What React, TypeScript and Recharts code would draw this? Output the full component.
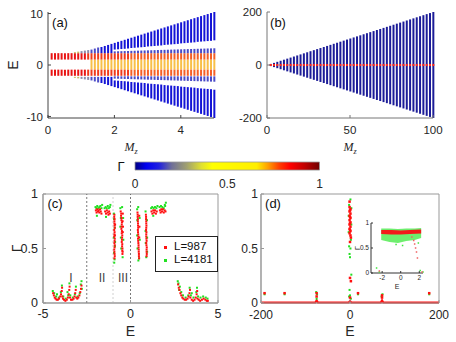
import React from 'react';
import {
  ComposedChart,
  BarChart,
  Bar,
  Cell,
  XAxis,
  YAxis,
  Scatter,
  Line,
  Area,
  ReferenceLine,
  ReferenceArea,
} from 'recharts';

const FONT = '"Liberation Sans", Arial, Helvetica, sans-serif';
const SERIF = '"Liberation Serif", "DejaVu Serif", serif';
const TICK = '#262626';

// ---------------- panel (a): spectrum vs M_z (0..5) ----------------
const mzA = [
  0.1, 0.2, 0.3, 0.4, 0.5, 0.6, 0.7, 0.8, 0.9, 1.0, 1.1, 1.2, 1.3, 1.4, 1.5, 1.6, 1.7,
  1.8, 1.9, 2.0, 2.1, 2.2, 2.3, 2.4, 2.5, 2.6, 2.7, 2.8, 2.9, 3.0, 3.1, 3.2, 3.3, 3.4,
  3.5, 3.6, 3.7, 3.8, 3.9, 4.0, 4.1, 4.2, 4.3, 4.4, 4.5, 4.6, 4.7, 4.8, 4.9, 5.0,
];
const outerHiA = [
  null, null, null, null, null, null, null,
  2.5, 2.6, 2.7, 2.8, 2.9, 3.0, 3.2, 3.4, 3.5, 3.7, 3.9, 4.1,
  4.3, 4.5, 4.7, 4.9, 5.1, 5.3, 5.5, 5.7, 5.9, 6.1,
  6.3, 6.5, 6.7, 6.9, 7.1, 7.3, 7.5, 7.7, 7.9, 8.1,
  8.3, 8.5, 8.7, 8.9, 9.1, 9.3, 9.5, 9.7, 9.9, 10.1,
  10.3,
];
const outerLoA = [
  null, null, null, null, null, null, null,
  2.3, 2.3, 2.3, 2.3, 2.3, 2.3, 2.3, 2.3, 2.3, 2.3, 2.3, 2.3,
  3.0, 3.05, 3.1, 3.15, 3.2, 3.3, 3.35, 3.4, 3.45, 3.5,
  3.6, 3.65, 3.7, 3.75, 3.8, 3.9, 3.95, 4.0, 4.05, 4.1,
  4.2, 4.25, 4.3, 4.35, 4.4, 4.5, 4.55, 4.6, 4.65, 4.7,
  4.8,
];
const innerHiA = [
  null, null, null, null, null, null, null, null, null, null,
  null, null, null, null, null, null, null, null, null,
  2.65, 2.67, 2.69, 2.71, 2.73, 2.75, 2.77, 2.79, 2.81, 2.83,
  2.85, 2.87, 2.89, 2.91, 2.93, 2.95, 2.97, 2.99, 3.01, 3.03,
  3.05, 3.07, 3.09, 3.11, 3.13, 3.15, 3.17, 3.19, 3.21, 3.23,
  3.25,
];
const redBandUpperA = [1.05, 2.3];
const redBandLowerA = [-2.1, -0.9];
const coreBandA = [-0.9, 1.05];
const coreOnsetA = 1.3;

// ---------------- panel (b): spectrum vs M_z (0..100) ----------------
const mzB = [
  2, 4, 6, 8, 10, 12, 14, 16, 18, 20, 22, 24, 26, 28, 30, 32, 34, 36, 38, 40, 42, 44, 46,
  48, 50, 52, 54, 56, 58, 60, 62, 64, 66, 68, 70, 72, 74, 76, 78, 80, 82, 84, 86, 88, 90,
  92, 94, 96, 98, 100,
];
const hiB = [
  4, 8, 12, 16, 20, 24, 28, 32, 36, 40, 44, 48, 52, 56, 60, 64, 68, 72, 76, 80, 84, 88, 92,
  96, 100, 104, 108, 112, 116, 120, 124, 128, 132, 136, 140, 144, 148, 152, 156, 160, 164,
  168, 172, 176, 180, 184, 188, 192, 196, 200,
];
const redBandB = [-4, 4];

// ---------------- colour bar ----------------
const gammaTicks = [0, 0.5, 1];

// ---------------- panel (c): Gamma vs E ----------------
const redC = [
  [-4.42, 0.09], [-4.38, 0.07], [-4.33, 0.05], [-4.28, 0.04], [-4.22, 0.03], [-4.15, 0.03],
  [-4.08, 0.04], [-4.02, 0.06], [-3.97, 0.08], [-3.93, 0.11], [-3.91, 0.14], [-3.9, 0.06],
  [-3.86, 0.04], [-3.8, 0.03], [-3.72, 0.02], [-3.64, 0.03], [-3.58, 0.05], [-3.53, 0.08],
  [-3.5, 0.12], [-3.48, 0.15], [-3.46, 0.05], [-3.4, 0.03], [-3.32, 0.03], [-3.25, 0.04],
  [-3.2, 0.06], [-3.16, 0.09], [-3.13, 0.12], [-3.1, 0.05], [-3.04, 0.04], [-2.98, 0.05],
  [-2.92, 0.07], [-2.87, 0.1], [-2.83, 0.13], [-2.8, 0.16],
  [-1.98, 0.85], [-1.94, 0.83], [-1.9, 0.86], [-1.86, 0.84], [-1.82, 0.85], [-1.78, 0.83],
  [-1.74, 0.86], [-1.7, 0.84], [-1.66, 0.82], [-1.45, 0.84], [-1.4, 0.82], [-1.35, 0.85],
  [-1.3, 0.83], [-1.26, 0.81], [-1.22, 0.84], [-1.18, 0.82],
  [-0.93, 0.79], [-0.92, 0.75], [-0.91, 0.71], [-0.93, 0.67], [-0.92, 0.63], [-0.9, 0.59],
  [-0.92, 0.55], [-0.91, 0.51], [-0.92, 0.47], [-0.9, 0.43], [-0.88, 0.72], [-0.89, 0.62],
  [-0.92, 0.81], [-0.91, 0.77], [-0.92, 0.73], [-0.9, 0.69], [-0.91, 0.65], [-0.93, 0.61],
  [-0.91, 0.57], [-0.9, 0.53], [-0.93, 0.49], [-0.91, 0.45], [-0.92, 0.41],
  [-0.56, 0.84], [-0.54, 0.8], [-0.52, 0.76], [-0.5, 0.72], [-0.52, 0.68], [-0.5, 0.64],
  [-0.48, 0.6], [-0.5, 0.56], [-0.48, 0.52], [-0.47, 0.48], [-0.46, 0.45], [-0.44, 0.82],
  [-0.45, 0.75], [-0.43, 0.7], [-0.44, 0.65],
  [-0.53, 0.82], [-0.51, 0.78], [-0.49, 0.74], [-0.51, 0.7], [-0.49, 0.66], [-0.47, 0.62],
  [-0.49, 0.58], [-0.47, 0.54], [-0.46, 0.5], [-0.45, 0.47],
  [0.4, 0.83], [0.41, 0.79], [0.42, 0.75], [0.43, 0.71], [0.42, 0.67], [0.44, 0.63],
  [0.43, 0.59], [0.45, 0.55], [0.46, 0.51], [0.47, 0.47], [0.48, 0.43], [0.5, 0.8],
  [0.51, 0.7], [0.5, 0.6],
  [0.41, 0.81], [0.42, 0.77], [0.43, 0.73], [0.44, 0.69], [0.43, 0.65], [0.45, 0.61],
  [0.44, 0.57], [0.46, 0.53], [0.47, 0.49], [0.48, 0.45], [0.49, 0.41],
  [0.88, 0.81], [0.89, 0.77], [0.9, 0.73], [0.9, 0.69], [0.91, 0.65], [0.9, 0.61],
  [0.92, 0.57], [0.91, 0.53], [0.92, 0.49], [0.93, 0.45],
  [0.89, 0.79], [0.9, 0.75], [0.91, 0.71], [0.89, 0.67], [0.9, 0.63], [0.91, 0.59],
  [0.9, 0.55], [0.93, 0.51], [0.92, 0.47], [0.92, 0.43],
  [1.2, 0.84], [1.25, 0.82], [1.3, 0.85], [1.35, 0.83], [1.4, 0.85], [1.45, 0.82],
  [1.5, 0.84], [1.68, 0.85], [1.72, 0.83], [1.76, 0.86], [1.8, 0.84], [1.85, 0.86],
  [1.9, 0.83], [1.95, 0.85], [2.0, 0.84],
  [2.72, 0.17], [2.76, 0.14], [2.8, 0.12], [2.85, 0.09], [2.9, 0.07], [2.96, 0.05],
  [3.02, 0.04], [3.1, 0.03], [3.18, 0.03], [3.26, 0.04], [3.32, 0.06], [3.37, 0.09],
  [3.4, 0.12], [3.42, 0.05], [3.5, 0.03], [3.58, 0.02], [3.66, 0.03], [3.73, 0.05],
  [3.78, 0.08], [3.81, 0.11], [3.83, 0.04], [3.9, 0.03], [3.98, 0.02], [4.08, 0.03],
  [4.18, 0.04], [4.28, 0.03], [4.36, 0.02], [4.42, 0.02],
];
const greenC = [
  [-4.44, 0.11], [-4.36, 0.09], [-4.25, 0.06], [-4.1, 0.05], [-3.98, 0.1], [-3.92, 0.16],
  [-3.84, 0.06], [-3.7, 0.04], [-3.56, 0.07], [-3.49, 0.18], [-3.44, 0.07], [-3.3, 0.05],
  [-3.18, 0.08], [-3.12, 0.15], [-3.02, 0.06], [-2.9, 0.09], [-2.84, 0.17], [-2.8, 0.2],
  [-2.78, 0.13], [-3.6, 0.1], [-4.2, 0.08],
  [-2.0, 0.88], [-1.95, 0.87], [-1.9, 0.89], [-1.84, 0.87], [-1.78, 0.88], [-1.72, 0.89],
  [-1.66, 0.87], [-1.62, 0.9], [-1.48, 0.87], [-1.42, 0.88], [-1.36, 0.87], [-1.3, 0.89],
  [-1.24, 0.87], [-1.18, 0.88], [-1.15, 0.9], [-1.92, 0.8], [-1.4, 0.79],
  [-0.95, 0.82], [-0.94, 0.77], [-0.9, 0.69], [-0.95, 0.6], [-0.89, 0.52], [-0.94, 0.46],
  [-0.91, 0.4], [-0.93, 0.37], [-0.88, 0.56],
  [-0.58, 0.87], [-0.55, 0.78], [-0.58, 0.7], [-0.42, 0.78], [-0.55, 0.6], [-0.41, 0.58],
  [-0.53, 0.5], [-0.45, 0.42], [-0.48, 0.88],
  [0.38, 0.86], [0.39, 0.76], [0.52, 0.78], [0.38, 0.62], [0.53, 0.58], [0.4, 0.5],
  [0.49, 0.41], [0.45, 0.39], [0.44, 0.88],
  [0.86, 0.84], [0.94, 0.76], [0.86, 0.66], [0.95, 0.6], [0.87, 0.55], [0.95, 0.47],
  [0.9, 0.42],
  [1.18, 0.87], [1.24, 0.88], [1.32, 0.87], [1.4, 0.88], [1.48, 0.87], [1.54, 0.89],
  [1.66, 0.88], [1.74, 0.89], [1.82, 0.88], [1.9, 0.87], [1.98, 0.89], [2.02, 0.92],
  [1.96, 0.9], [1.3, 0.8],
  [2.7, 0.2], [2.74, 0.18], [2.82, 0.15], [2.9, 0.1], [3.0, 0.07], [3.15, 0.05],
  [3.3, 0.07], [3.38, 0.14], [3.45, 0.07], [3.6, 0.05], [3.76, 0.1], [3.8, 0.14],
  [3.86, 0.06], [4.0, 0.05], [4.15, 0.06], [4.3, 0.05], [4.4, 0.04], [3.5, 0.09],
  [2.78, 0.12],
];
const regionBoundsC = [-2.5, -1, 0];

// ---------------- panel (d): Gamma vs E (wide) ----------------
const redD = [
  [-192, 0.09], [-147, 0.09], [-75, 0.06], [-75, 0.09], [-1, 0.88], [1, 0.86], [-1, 0.84],
  [1, 0.82], [-1, 0.8], [1, 0.78], [-1, 0.76], [1, 0.74], [-1, 0.72], [1, 0.7], [-1, 0.68],
  [1, 0.66], [-1, 0.64], [1, 0.62], [0, 0.85], [0, 0.79], [0, 0.73], [0, 0.67], [2, 0.6],
  [0, 0.56], [-1, 0.93], [0, 0.23], [2, 0.2], [0, 0.05], [18, 0.09], [72, 0.05],
  [72, 0.07], [178, 0.09],
];
const greenD = [
  [-192, 0.08], [-147, 0.08], [-75, 0.04], [-74, 0.08], [-76, 0.1], [-2, 0.9], [3, 0.87],
  [-3, 0.8], [3, 0.72], [-3, 0.65], [2, 0.58], [-2, 0.52], [1, 0.5], [-1, 0.45], [0, 0.42],
  [3, 0.26], [-1, 0.12], [0, 0.07], [2, 0.04], [-2, 0.06], [18, 0.08], [71, 0.06],
  [73, 0.08], [178, 0.08], [1, 0.95],
];
const baselineD = [
  [-200, 0.004], [-78, 0.004], [-75, 0.025], [-72, 0.004], [-3, 0.004], [0, 0.02],
  [3, 0.004], [69, 0.004], [72, 0.025], [75, 0.004], [200, 0.004],
];

// ---------------- inset of (d) ----------------
const insetGreenBand = [
  [-2.1, 0.66, 0.89], [-1.2, 0.62, 0.89], [-0.3, 0.6, 0.88], [0.6, 0.64, 0.89],
  [1.5, 0.66, 0.89], [2.2, 0.7, 0.9],
];
const insetRedBand = [
  [-2.1, 0.78, 0.86], [-1, 0.77, 0.86], [0, 0.77, 0.85], [1, 0.78, 0.86], [2.2, 0.79, 0.87],
];
const insetGreenPts = [
  [-2.3, 0.02], [-2.6, 0.1], [2.1, 0.05], [2.4, 0.02], [0.2, 0.55], [-0.5, 0.57], [1.9, 0.6],
];
const insetRedPts = [
  [1.2, 0.72], [1.4, 0.65], [1.5, 0.58], [1.6, 0.5], [1.7, 0.42], [1.8, 0.3], [-2.3, 0.04],
  [2.3, 0.02],
];

// ---------------- tables built from the arrays ----------------
const tableA = mzA.map((mz, i) => ({
  mz,
  outerUp: outerHiA[i] == null ? null : [outerLoA[i], outerHiA[i]],
  outerDn: outerHiA[i] == null ? null : [-(outerHiA[i] as number), -(outerLoA[i] as number)],
  innerUp: innerHiA[i] == null ? null : [2.3, innerHiA[i]],
  innerDn: innerHiA[i] == null ? null : [-(innerHiA[i] as number), -2.2],
  redUp: redBandUpperA,
  redDn: redBandLowerA,
  core: mz >= coreOnsetA ? coreBandA : null,
}));
const tableB = mzB.map((mz, i) => ({ mz, band: [-hiB[i], hiB[i]], red: redBandB }));
const pts = (arr: number[][]) => arr.map(([x, y]) => ({ x, y }));
const bands = (arr: number[][]) => arr.map(([x, lo, hi]) => ({ x, band: [lo, hi] }));

// ---------------- styling helpers ----------------
const outerColor = (mz: number) =>
  mz < 1.0 ? '#c4bc68' : mz < 1.3 ? '#8c8cac' : mz < 1.6 ? '#4c4cc8' : '#1414d6';
const redColor = (mz: number) => (mz < 1.2 ? '#e81414' : mz < 2.5 ? '#ef3a1c' : '#f45e26');

const square = (color: string, s: number) => (props: any) => {
  const { cx, cy } = props;
  if (cx == null || cy == null) return <g />;
  return <rect x={cx - s / 2} y={cy - s / 2} width={s} height={s} fill={color} />;
};

const tickStyle = (size: number) => ({ fill: TICK, fontSize: size, fontFamily: FONT });

const yLabel = (text: string, x: number, size: number) => (props: any) => {
  const vb = props.viewBox || { y: 0, height: 0 };
  const cy = vb.y + vb.height / 2;
  return (
    <text
      x={x}
      y={cy}
      transform={`rotate(-90 ${x} ${cy})`}
      textAnchor="middle"
      dy="0.36em"
      fontSize={size}
      fontFamily={FONT}
      fill={TICK}
    >
      {text}
    </text>
  );
};

const xLabel = (text: string, off: number, size: number) => (props: any) => {
  const vb = props.viewBox || { x: 0, y: 0, width: 0 };
  return (
    <text
      x={vb.x + vb.width / 2}
      y={vb.y + off}
      textAnchor="middle"
      dy="0.36em"
      fontSize={size}
      fontFamily={FONT}
      fill={TICK}
    >
      {text}
    </text>
  );
};

const mzLabel = (off: number) => (props: any) => {
  const vb = props.viewBox || { x: 0, y: 0, width: 0 };
  return (
    <text
      x={vb.x + vb.width / 2}
      y={vb.y + off}
      textAnchor="middle"
      dy="0.36em"
      fontSize={12}
      fontFamily={SERIF}
      fontStyle="italic"
      fill={TICK}
    >
      <tspan>M</tspan>
      <tspan fontSize={8} dy={3}>z</tspan>
    </text>
  );
};

const Txt = ({ x, y, size = 13, color = '#111', children }: any) => (
  <div
    style={{
      position: 'absolute',
      left: x,
      top: y,
      transform: 'translate(-50%, -50%)',
      fontSize: size,
      fontFamily: FONT,
      color,
      lineHeight: 1,
      whiteSpace: 'nowrap',
    }}
  >
    {children}
  </div>
);

const hiddenIds = ['h2', 'h3', 'h4', 'h5', 'h6', 'h7'];

function PanelA() {
  return (
    <ComposedChart width={220} height={158} data={tableA} margin={{ top: 12, right: 6, bottom: 0, left: 0 }}>
      <XAxis
        xAxisId="main"
        dataKey="mz"
        type="number"
        domain={[0, 5]}
        ticks={[0, 2, 4]}
        interval={0}
        height={40}
        tickSize={-3}
        tickMargin={11}
        stroke="#444"
        tick={tickStyle(11.5)}
        label={mzLabel(29)}
      />
      {hiddenIds.map((id) => (
        <XAxis key={id} xAxisId={id} dataKey="mz" type="number" domain={[0, 5]} height={0} hide />
      ))}
      <YAxis
        type="number"
        domain={[-10, 10]}
        ticks={[-10, 0, 10]}
        interval={0}
        width={48}
        tickSize={-3}
        tickMargin={8}
        stroke="#444"
        tick={tickStyle(11.5)}
        label={yLabel('E', 13, 14)}
      />
      <Bar xAxisId="main" dataKey="core" barSize={2} fill="#f8c048" isAnimationActive={false} />
      <Bar xAxisId="h2" dataKey="redUp" barSize={2} isAnimationActive={false}>
        {tableA.map((d, i) => (
          <Cell key={i} fill={redColor(d.mz)} />
        ))}
      </Bar>
      <Bar xAxisId="h3" dataKey="redDn" barSize={2} isAnimationActive={false}>
        {tableA.map((d, i) => (
          <Cell key={i} fill={redColor(d.mz)} />
        ))}
      </Bar>
      <Bar xAxisId="h4" dataKey="outerUp" barSize={2} isAnimationActive={false}>
        {tableA.map((d, i) => (
          <Cell key={i} fill={outerColor(d.mz)} />
        ))}
      </Bar>
      <Bar xAxisId="h5" dataKey="outerDn" barSize={2} isAnimationActive={false}>
        {tableA.map((d, i) => (
          <Cell key={i} fill={outerColor(d.mz)} />
        ))}
      </Bar>
      <Bar xAxisId="h6" dataKey="innerUp" barSize={2} fill="#4a4ac8" isAnimationActive={false} />
      <Bar xAxisId="h7" dataKey="innerDn" barSize={2} fill="#4a4ac8" isAnimationActive={false} />
    </ComposedChart>
  );
}

function PanelB() {
  return (
    <ComposedChart width={226} height={158} data={tableB} margin={{ top: 12, right: 15, bottom: 0, left: 0 }}>
      <XAxis
        xAxisId="main"
        dataKey="mz"
        type="number"
        domain={[0, 100]}
        ticks={[0, 50, 100]}
        interval={0}
        height={40}
        tickSize={-3}
        tickMargin={11}
        stroke="#777"
        tick={tickStyle(11.5)}
        label={mzLabel(29)}
      />
      <XAxis xAxisId="h2" dataKey="mz" type="number" domain={[0, 100]} height={0} hide />
      <YAxis
        type="number"
        domain={[-200, 200]}
        ticks={[-200, 0, 200]}
        interval={0}
        width={45}
        tickSize={-3}
        tickMargin={8}
        stroke="#777"
        tick={tickStyle(11.5)}
      />
      <Bar xAxisId="main" dataKey="band" barSize={2} fill="#1c1c98" isAnimationActive={false} />
      <Bar xAxisId="h2" dataKey="red" barSize={2} fill="#ff2a1a" isAnimationActive={false} />
    </ComposedChart>
  );
}

function ColorBar() {
  return (
    <BarChart
      width={240}
      height={41}
      layout="vertical"
      data={[{ k: 'Γ', v: [0, 1] }]}
      margin={{ top: 12, right: 20.5, bottom: 0, left: 35 }}
      barCategoryGap={0}
    >
      <defs>
        <linearGradient id="cmapGamma" x1="0" y1="0" x2="1" y2="0">
          <stop offset="0" stopColor="#000080" />
          <stop offset="0.06" stopColor="#0000f0" />
          <stop offset="0.13" stopColor="#2020e0" />
          <stop offset="0.2" stopColor="#707098" />
          <stop offset="0.28" stopColor="#a0a070" />
          <stop offset="0.36" stopColor="#e0e030" />
          <stop offset="0.42" stopColor="#ffff00" />
          <stop offset="0.66" stopColor="#ffee00" />
          <stop offset="0.72" stopColor="#ffa000" />
          <stop offset="0.78" stopColor="#ff4000" />
          <stop offset="0.84" stopColor="#ff0000" />
          <stop offset="0.92" stopColor="#c00000" />
          <stop offset="1" stopColor="#700000" />
        </linearGradient>
      </defs>
      <XAxis
        type="number"
        domain={[0, 1]}
        ticks={gammaTicks}
        interval={0}
        height={20}
        axisLine={false}
        tickLine={false}
        tickSize={0}
        tickMargin={8}
        tick={tickStyle(12)}
      />
      <YAxis type="category" dataKey="k" hide />
      <Bar dataKey="v" barSize={9} fill="url(#cmapGamma)" stroke="#9a9a9a" strokeWidth={0.8} isAnimationActive={false} />
    </BarChart>
  );
}

function PanelC() {
  return (
    <ComposedChart width={225} height={160} margin={{ top: 14, right: 7, bottom: 0, left: 0 }}>
      <XAxis
        dataKey="x"
        type="number"
        domain={[-5, 5]}
        ticks={[-5, 0, 5]}
        interval={0}
        height={37}
        tickSize={-3}
        tickMargin={9}
        stroke="#999"
        tick={tickStyle(12.5)}
        label={xLabel('E', 28, 14)}
      />
      <YAxis
        dataKey="y"
        type="number"
        domain={[0, 1]}
        ticks={[0, 0.5, 1]}
        interval={0}
        width={43}
        tickSize={-3}
        tickMargin={8}
        stroke="#999"
        tick={tickStyle(12.5)}
        label={yLabel('Γ', 17, 14)}
      />
      <ReferenceArea x1={-5} x2={5} y1={0} y2={1} fill="none" stroke="#999" strokeWidth={1} />
      {regionBoundsC.map((e) => (
        <ReferenceLine
          key={e}
          x={e}
          stroke={e === -1 ? '#c4c4c4' : '#555'}
          strokeDasharray="2 2"
          strokeWidth={0.8}
        />
      ))}
      <Scatter data={pts(greenC)} shape={square('#22e022', 2)} isAnimationActive={false} />
      <Scatter data={pts(redC)} shape={square('#ff1010', 2)} isAnimationActive={false} />
    </ComposedChart>
  );
}

function PanelD() {
  return (
    <ComposedChart width={228} height={160} margin={{ top: 14, right: 17, bottom: 0, left: 0 }}>
      <XAxis
        dataKey="x"
        type="number"
        domain={[-200, 200]}
        ticks={[-200, 0, 200]}
        interval={0}
        height={37}
        tickSize={-3}
        tickMargin={10}
        stroke="#999"
        tick={tickStyle(12)}
        label={xLabel('E', 28, 14)}
      />
      <YAxis
        dataKey="y"
        type="number"
        domain={[0, 1]}
        ticks={[0, 0.5, 1]}
        interval={0}
        width={33}
        tickSize={-3}
        tickMargin={6}
        stroke="#999"
        tick={tickStyle(12)}
      />
      <ReferenceArea x1={-200} x2={200} y1={0} y2={1} fill="none" stroke="#999" strokeWidth={1} />
      <Line
        data={pts(baselineD)}
        dataKey="y"
        type="linear"
        stroke="#ff1010"
        strokeWidth={2}
        dot={false}
        isAnimationActive={false}
      />
      <Scatter data={pts(greenD)} shape={square('#22e022', 2)} isAnimationActive={false} />
      <Scatter data={pts(redD)} shape={square('#ff1010', 2.5)} isAnimationActive={false} />
    </ComposedChart>
  );
}

function InsetD() {
  return (
    <ComposedChart width={80} height={80} margin={{ top: 8, right: 7, bottom: 0, left: 0 }}>
      <XAxis
        dataKey="x"
        type="number"
        domain={[-3.2, 2.3]}
        ticks={[-2, 0, 2]}
        interval={0}
        height={22}
        tickSize={-2}
        tickMargin={4}
        stroke="#333"
        tick={tickStyle(6.5)}
        label={xLabel('E', 13, 7)}
      />
      <YAxis
        dataKey="y"
        type="number"
        domain={[0, 1]}
        ticks={[0, 0.5, 1]}
        interval={0}
        width={21}
        tickSize={-2}
        tickMargin={4}
        stroke="#333"
        tick={tickStyle(6.5)}
        label={yLabel('Γ', 7, 7)}
      />
      <Area
        data={bands(insetGreenBand)}
        dataKey="band"
        type="linear"
        stroke="none"
        fill="#3ee83e"
        fillOpacity={0.75}
        isAnimationActive={false}
      />
      <Area
        data={bands(insetRedBand)}
        dataKey="band"
        type="linear"
        stroke="none"
        fill="#f21a1a"
        fillOpacity={1}
        isAnimationActive={false}
      />
      <Scatter data={pts(insetGreenPts)} shape={square('#3ee83e', 1.5)} isAnimationActive={false} />
      <Scatter data={pts(insetRedPts)} shape={square('#f06060', 1.5)} isAnimationActive={false} />
    </ComposedChart>
  );
}

export default function App() {
  return (
    <div
      style={{
        position: 'absolute',
        left: 0,
        top: 0,
        width: 456,
        height: 342,
        background: '#fff',
        overflow: 'hidden',
        fontFamily: FONT,
      }}
    >
      <div style={{ position: 'absolute', left: 0, top: 0 }}>
        <PanelA />
      </div>
      <div style={{ position: 'absolute', left: 222, top: 0 }}>
        <PanelB />
      </div>
      <div style={{ position: 'absolute', left: 100, top: 150 }}>
        <ColorBar />
      </div>
      <div style={{ position: 'absolute', left: 0, top: 180 }}>
        <PanelC />
      </div>
      <div style={{ position: 'absolute', left: 228, top: 180 }}>
        <PanelD />
      </div>
      <div style={{ position: 'absolute', left: 350, top: 215 }}>
        <InsetD />
      </div>

      <Txt x={121} y={166} size={13}>Γ</Txt>
      <Txt x={60} y={22}>(a)</Txt>
      <Txt x={278} y={22}>(b)</Txt>
      <Txt x={55} y={203}>(c)</Txt>
      <Txt x={273} y={203}>(d)</Txt>
      <Txt x={71} y={278} size={12} color="#444">I</Txt>
      <Txt x={102} y={278} size={12} color="#444">II</Txt>
      <Txt x={123} y={278} size={12} color="#444">III</Txt>

      <div
        style={{
          position: 'absolute',
          left: 155,
          top: 236,
          width: 61,
          height: 34,
          border: '1px solid #222',
          background: '#fff',
        }}
      >
        <div style={{ position: 'absolute', left: 8, top: 8.5, width: 3, height: 3, background: '#ff1010' }} />
        <div style={{ position: 'absolute', left: 18, top: 10, transform: 'translateY(-50%)', fontSize: 11.5, lineHeight: 1, fontFamily: FONT, color: '#111' }}>
          L=987
        </div>
        <div style={{ position: 'absolute', left: 8, top: 21.5, width: 3, height: 3, background: '#22e022' }} />
        <div style={{ position: 'absolute', left: 18, top: 23, transform: 'translateY(-50%)', fontSize: 11.5, lineHeight: 1, fontFamily: FONT, color: '#111' }}>
          L=4181
        </div>
      </div>
    </div>
  );
}
